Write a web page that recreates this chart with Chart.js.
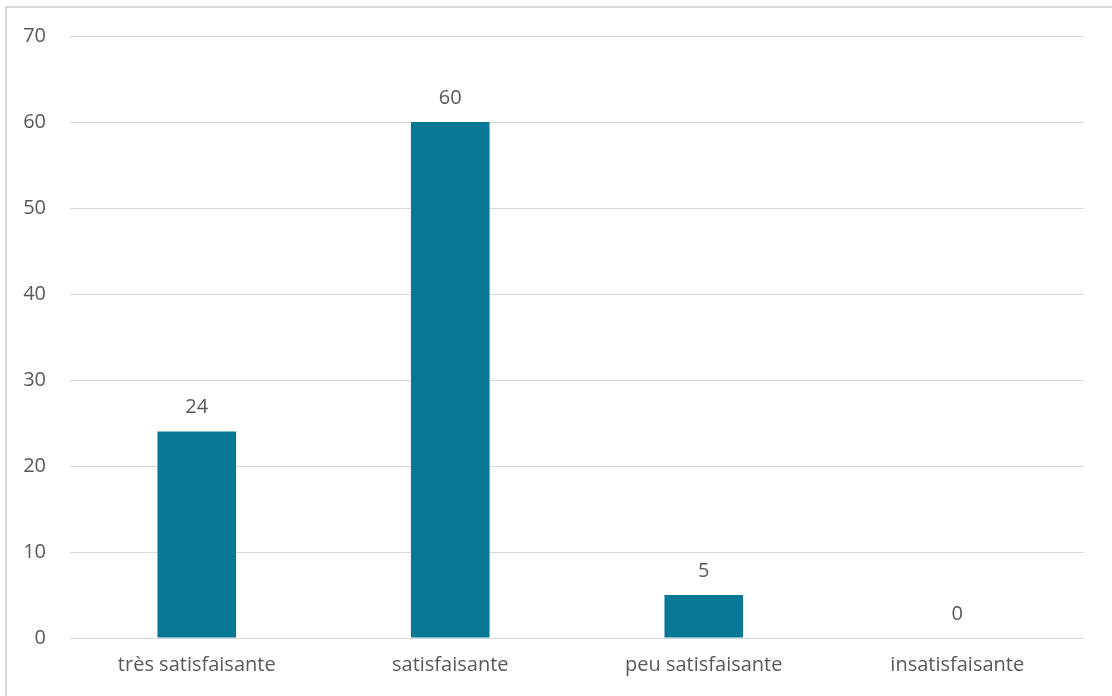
<!DOCTYPE html>
<html>
<head>
<meta charset="utf-8">
<script src="https://cdn.jsdelivr.net/npm/chart.js@4/dist/chart.umd.min.js"></script>
<style>
  html, body { margin: 0; padding: 0; background: #fff; overflow: hidden; }
  #frame {
    position: absolute; left: 5px; top: 6px; width: 1200px; height: 800px;
    border-top: 2px solid #d9d9d9; border-left: 2px solid #d9d9d9;
  }
  #wrap { position: absolute; left: 0; top: 0; width: 1112px; height: 696px; }
</style>
</head>
<body>
<div id="frame"></div>
<div id="wrap"><canvas id="satisfactionChart"></canvas></div>
<script>
// satisfaction chart

const categories = ['très satisfaisante', 'satisfaisante', 'peu satisfaisante', 'insatisfaisante'];
const responses = [24, 60, 5, 0];
const yTicks = [0, 10, 20, 30, 40, 50, 60, 70];

const textColor = '#595959';
const fontFamily = '"Open Sans", "Noto Sans", sans-serif';
const fontSize = 20;

// draws the value above each bar
const valueLabels = {
    id: 'valueLabels',
    afterDatasetsDraw(chart) {
        const ctx = chart.ctx;
        const meta = chart.getDatasetMeta(0);
        ctx.save();
        ctx.font = fontSize + 'px ' + fontFamily;
        ctx.fillStyle = textColor;
        ctx.textAlign = 'center';
        ctx.textBaseline = 'middle';
        meta.data.forEach((bar, i) => {
            ctx.fillText(String(chart.data.datasets[0].data[i]), bar.x, bar.y - 24);
        });
        ctx.restore();
    }
};

const ctx = document.getElementById('satisfactionChart').getContext('2d');
const satisfactionChart = new Chart(ctx, {
    type: 'bar',
    data: {
        labels: categories,
        datasets: [{
            data: responses,
            backgroundColor: '#077895',
            categoryPercentage: 1,
            barPercentage: 0.31
        }]
    },
    options: {
        responsive: true,
        maintainAspectRatio: false,
        animation: false,
        layout: { padding: { top: 36, right: 28, bottom: 0, left: 0 } },
        plugins: {
            legend: { display: false },
            tooltip: { enabled: false }
        },
        scales: {
            x: {
                grid: { display: false, drawTicks: false },
                border: { display: false },
                ticks: { color: textColor, font: { family: fontFamily, size: fontSize }, padding: 15 },
                afterFit(scale) { scale.height = 58; }
            },
            y: {
                min: 0,
                max: 70,
                afterBuildTicks(scale) { scale.ticks = yTicks.map(v => ({ value: v })); },
                grid: { color: '#d9d9d9', lineWidth: 1, drawTicks: false },
                border: { display: false },
                ticks: { color: textColor, font: { family: fontFamily, size: fontSize }, padding: 24 },
                afterFit(scale) { scale.width = 70; }
            }
        }
    },
    plugins: [valueLabels]
});
</script>
</body>
</html>
